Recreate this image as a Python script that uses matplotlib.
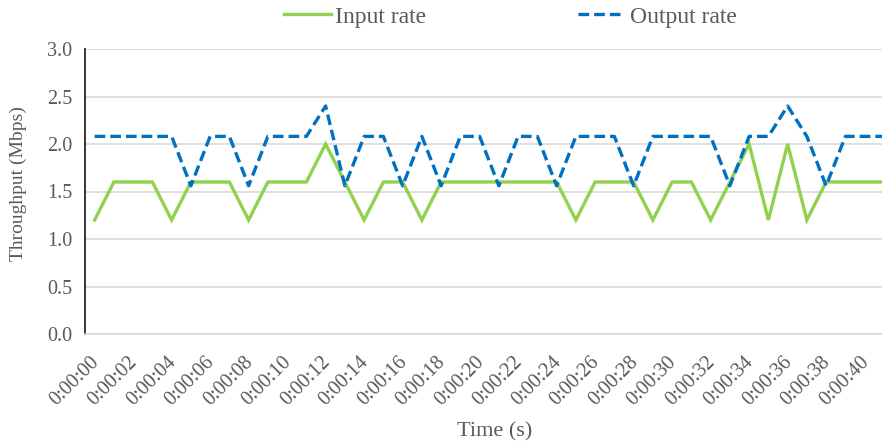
import matplotlib
matplotlib.use("Agg")
import matplotlib.pyplot as plt
import matplotlib.transforms as mtransforms
import numpy as np

# Throughput samples, one per second (0:00:00 .. 0:00:41)
seconds = list(range(42))
input_rate = [1.2, 1.6, 1.6, 1.6, 1.2, 1.6, 1.6, 1.6, 1.2, 1.6, 1.6, 1.6, 2.0, 1.6,
              1.2, 1.6, 1.6, 1.2, 1.6, 1.6, 1.6, 1.6, 1.6, 1.6, 1.6, 1.2, 1.6, 1.6,
              1.6, 1.2, 1.6, 1.6, 1.2, 1.6, 2.0, 1.2, 2.0, 1.2, 1.6, 1.6, 1.6, 1.6]
output_rate = [2.08, 2.08, 2.08, 2.08, 2.08, 1.56, 2.08, 2.08, 1.56, 2.08, 2.08, 2.08,
               2.4, 1.56, 2.08, 2.08, 1.56, 2.08, 1.56, 2.08, 2.08, 1.56, 2.08, 2.08,
               1.56, 2.08, 2.08, 2.08, 1.56, 2.08, 2.08, 2.08, 2.08, 1.56, 2.08, 2.08,
               2.4, 2.08, 1.56, 2.08, 2.08, 2.08]
time_labels = ["0:00:%02d" % s for s in seconds]
y_ticks = [0.0, 0.5, 1.0, 1.5, 2.0, 2.5, 3.0]

TEXT = "#595959"
GRID = "#d9d9d9"
plt.rcParams["font.family"] = ["Liberation Serif", "DejaVu Serif"]

W, H = 882, 447
fig = plt.figure(figsize=(W / 100, H / 100), dpi=100)
# plot area runs slightly past the right edge of the canvas
ax = fig.add_axes([85 / W, 1 - 334 / H, 808.5 / W, 285 / H])

x = np.arange(len(seconds))
ax.plot(x, input_rate, color="#92D050", lw=2.4, solid_joinstyle="miter",
        label="Input rate", zorder=3)
ax.plot(x, output_rate, color="#0070C0", lw=2.4, dashes=(3.2, 1.5),
        dash_capstyle="butt", label="Output rate", zorder=4)

ax.set_xlim(-0.5, len(seconds) - 0.5)
ax.set_ylim(0, 3.0)
ax.set_yticks(y_ticks)
ax.set_yticklabels(["%.1f" % v for v in y_ticks])
ax.yaxis.grid(True, color=GRID, lw=1.2)
ax.set_axisbelow(True)

ax.set_xticks(x[::2])
ax.set_xticklabels(time_labels[::2], rotation=45, ha="right", va="top",
                   rotation_mode="anchor")

ax.tick_params(axis="both", length=0, colors=TEXT, labelsize=14.5)
ax.tick_params(axis="y", pad=9)
ax.tick_params(axis="x", pad=9)

# nudge the slanted time labels down and to the left
shift = mtransforms.ScaledTranslation(-5 / 100, -6 / 100, fig.dpi_scale_trans)
for lbl in ax.get_xticklabels():
    lbl.set_transform(lbl.get_transform() + shift)

for side in ("top", "right"):
    ax.spines[side].set_visible(False)
ax.spines["left"].set_color("#262626")
ax.spines["left"].set_linewidth(1.3)
ax.spines["bottom"].set_color(GRID)
ax.spines["bottom"].set_linewidth(1.2)

fig.text(495 / W, 1 - 432 / H, "Time (s)", ha="center", va="center",
         color=TEXT, fontsize=16)
fig.text(18 / W, 1 - 184 / H, "Throughput (Mbps)", ha="center", va="center",
         rotation=90, color=TEXT, fontsize=14)

fig.legend(loc="center", bbox_to_anchor=(510 / W, 1 - 17 / H), ncol=2,
           frameon=False, fontsize=17, labelcolor=TEXT, handlelength=2.0,
           handletextpad=0.2, columnspacing=6.4)

fig.savefig("out.png", dpi=100)
